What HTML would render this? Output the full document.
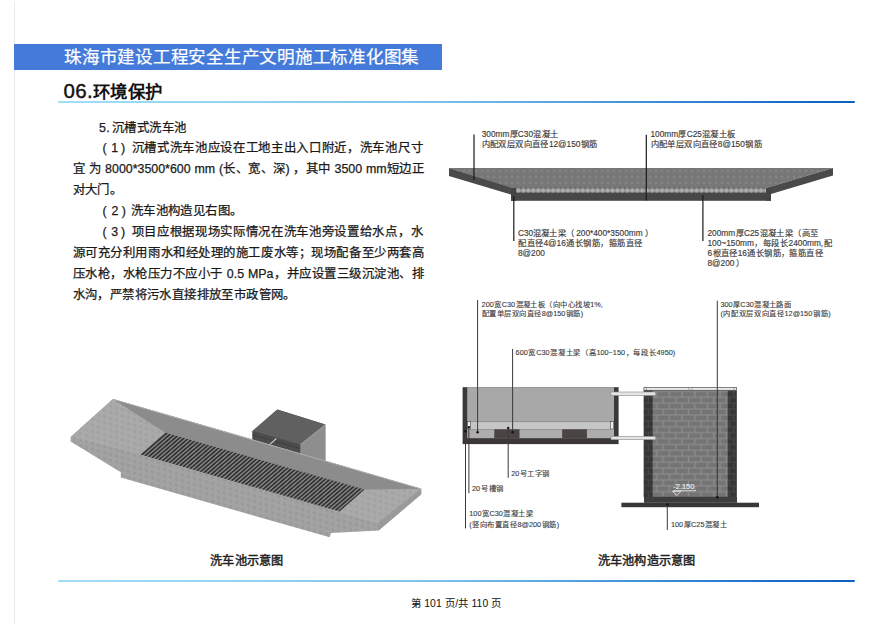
<!DOCTYPE html>
<html lang="zh-CN"><head><meta charset="utf-8">
<style>
*{margin:0;padding:0;box-sizing:border-box}
html,body{width:896px;height:632px;overflow:hidden;background:#fff}
body{position:relative;font-family:"Liberation Sans",sans-serif;color:#222}
.abs{position:absolute;white-space:nowrap}
#vline{position:absolute;left:14px;top:2px;width:1px;height:622px;background:#eaeaea}
#bar{position:absolute;left:14px;top:43.5px;width:428px;height:26.2px;background:#447bda}
#bartxt{left:64px;top:44.6px;font-size:17.6px;line-height:24px;color:#fff;letter-spacing:-0.25px;-webkit-text-stroke:0.2px #fff}
#sec{left:63.5px;top:79px;font-size:17.4px;line-height:24px;font-weight:bold;color:#111;letter-spacing:0.5px}
#sec .d{font-size:20.5px;font-weight:normal;letter-spacing:0.3px;margin-right:0px;-webkit-text-stroke:0.4px #111}
.hl{position:absolute;left:58.2px;width:797px;height:2.3px;border-radius:1.2px;background:linear-gradient(90deg,#a2ddf6 0%,#92d2f2 24%,#7cc2eb 47%,#3e8fd8 74%,#1a6ecb 90%,#0a5fc0 100%)}
.tx{position:absolute;font-size:12.4px;line-height:20px;color:#1a1a1a;white-space:nowrap;letter-spacing:0.4px;-webkit-text-stroke:0.25px #1a1a1a}
.j{text-align:justify;text-align-last:justify;white-space:normal;letter-spacing:0}
.pf{display:inline-block;width:31.9px;padding-left:3.5px;text-align-last:auto;text-align:left}
.pf b{font-weight:normal;margin:0 3px 0 4.5px}
.lb{position:absolute;font-size:8.3px;line-height:10px;color:#3a3a3a;white-space:nowrap;text-align:justify;text-align-last:justify;-webkit-text-stroke:0.15px #3a3a3a}
.lb2{position:absolute;font-size:7.3px;line-height:9px;color:#3c3c3c;white-space:nowrap;text-align:justify;text-align-last:justify;-webkit-text-stroke:0.12px #3c3c3c}
.cap{position:absolute;font-size:12.2px;line-height:16px;color:#222;font-weight:normal;-webkit-text-stroke:0.45px #222;white-space:nowrap;letter-spacing:0.25px}
#foot{left:411px;top:597px;font-size:10.4px;line-height:14px;color:#111;font-weight:normal;letter-spacing:0.15px}
</style></head><body>
<div id="vline"></div>
<div id="bar"></div>
<div id="bartxt" class="abs">珠海市建设工程安全生产文明施工标准化图集</div>
<div id="sec" class="abs"><span class="d">06.</span>环境保护</div>
<div class="hl" style="top:100.9px"></div>

<div class="tx" style="left:99.0px;top:118px;word-spacing:-2px">5. 沉槽式洗车池</div>
<div class="tx j" style="left:99.0px;top:138px;width:323.5px"><span class="pf">(<b>1</b>)</span>沉槽式洗车池应设在工地主出入口附近，洗车池尺寸</div>
<div class="tx j" style="left:72.6px;top:159px;width:351.2px">宜 为 8000*3500*600 mm (长、宽、深) ，其中 3500 mm短边正</div>
<div class="tx" style="left:72.6px;top:180px">对大门。</div>
<div class="tx" style="left:99.0px;top:201px"><span class="pf">(<b>2</b>)</span>洗车池构造见右图。</div>
<div class="tx j" style="left:99.0px;top:222px;width:323.5px"><span class="pf">(<b>3</b>)</span>项目应根据现场实际情况在洗车池旁设置给水点，水</div>
<div class="tx j" style="left:72.6px;top:243px;width:351.2px">源可充分利用雨水和经处理的施工废水等；现场配备至少两套高</div>
<div class="tx j" style="left:72.6px;top:264px;width:351.2px">压水枪，水枪压力不应小于 0.5 MPa，并应设置三级沉淀池、排</div>
<div class="tx" style="left:72.6px;top:285px">水沟，严禁将污水直接排放至市政管网。</div>


<svg id="art" width="896" height="632" viewBox="0 0 896 632" style="position:absolute;left:0;top:0">
<defs>
<pattern id="ctex" x="0" y="0" width="6" height="6" patternUnits="userSpaceOnUse" patternTransform="skewY(16)">
<rect width="6" height="6" fill="#a3a3a3"/><rect x="1" y="1" width="3.2" height="3.2" fill="#9a9a9a"/>
</pattern>
<pattern id="rtex" x="0" y="0" width="6" height="6" patternUnits="userSpaceOnUse" patternTransform="skewY(16)">
<rect width="6" height="6" fill="#aaaaaa"/><rect x="1" y="1" width="3.2" height="3.2" fill="#a2a2a2"/>
</pattern>
<pattern id="slabtex" x="449" y="168" width="6" height="6" patternUnits="userSpaceOnUse">
<rect width="6" height="6" fill="#777"/><circle cx="3" cy="3" r="1.3" fill="#848484"/>
</pattern>
<pattern id="rebar" x="516" y="187.6" width="4.95" height="5.4" patternUnits="userSpaceOnUse">
<rect width="4.95" height="5.4" fill="#5e5e5e"/><circle cx="2.47" cy="2.7" r="2.35" fill="#ababab"/>
</pattern>
<pattern id="grate" width="4.6" height="40" patternUnits="userSpaceOnUse" patternTransform="translate(165.1,432.6) skewX(-49)">
<rect width="4.6" height="40" fill="#858585"/><rect x="1.1" width="2.3" height="40" fill="#2c2c2c"/>
</pattern>
<pattern id="dbrick" x="643.8" y="391.3" width="9" height="11.8" patternUnits="userSpaceOnUse">
<rect width="9" height="11.8" fill="#4a4a4a"/>
<rect x="0.5" y="0.5" width="8" height="5" fill="#363636"/>
<rect x="-4" y="6.4" width="8" height="5" fill="#363636"/>
<rect x="5" y="6.4" width="8" height="5" fill="#363636"/>
</pattern>
<pattern id="brick" x="656.7" y="391.3" width="25.4" height="11.8" patternUnits="userSpaceOnUse">
<rect width="25.4" height="11.8" fill="#8e8e8e"/>
<rect x="0.6" y="0.6" width="11.5" height="4.8" fill="#747474"/>
<rect x="13.3" y="0.6" width="11.5" height="4.8" fill="#747474"/>
<rect x="-5.75" y="6.5" width="11.5" height="4.8" fill="#747474"/>
<rect x="6.95" y="6.5" width="11.5" height="4.8" fill="#747474"/>
<rect x="19.65" y="6.5" width="11.5" height="4.8" fill="#747474"/>
</pattern>
</defs>
<!-- ===== top-right slab section ===== -->
<g>
<polygon points="449,168 833,168 766,188 511,188" fill="url(#slabtex)"/>
<polygon points="449,168 511,187.6 511,194.6 449,176" fill="#4a4a4a"/>
<polygon points="833,168 833,175.5 771,194 766,194 766,188" fill="#4a4a4a"/>
<rect x="516" y="187.6" width="250" height="5.4" fill="url(#rebar)"/>
<rect x="511" y="193" width="260" height="7.8" fill="#474747"/>
<rect x="511" y="188" width="5" height="12.8" fill="#444"/>
<rect x="766" y="188" width="5" height="12.8" fill="#444"/>
</g>
<g stroke="#1a1a1a" stroke-width="1.2" fill="none">
<line x1="474" y1="134.5" x2="474" y2="180"/>
<line x1="646.3" y1="134.8" x2="646.3" y2="200.6"/>
<line x1="513.8" y1="196" x2="513.8" y2="241"/>
<line x1="702.9" y1="195" x2="702.9" y2="241"/>
</g>
<!-- ===== lower-right section ===== -->
<g>
<rect x="462.6" y="387.2" width="156" height="56.9" fill="#3c3838"/>
<rect x="467.2" y="387.2" width="146.8" height="34" fill="#a8a8a8"/>
<rect x="467.2" y="421.2" width="146.8" height="8.1" fill="#c6c6c6"/>
<line x1="467.2" y1="421.6" x2="614" y2="421.6" stroke="#8a8a8a" stroke-width="0.8"/>
<rect x="467.6" y="421.5" width="3" height="7.5" fill="#eee" stroke="#444" stroke-width="0.6"/>
<rect x="610.6" y="421.5" width="3" height="7.5" fill="#eee" stroke="#444" stroke-width="0.6"/>
<rect x="467.2" y="429.3" width="146.8" height="8.9" fill="#adadad"/>
<rect x="494.3" y="429.3" width="25.2" height="8.9" fill="#4a4444"/>
<rect x="562.2" y="429.3" width="24.7" height="8.9" fill="#4a4444"/>
<rect x="643.8" y="387.2" width="92.8" height="109.8" fill="#3a3838"/>
<rect x="643.8" y="390.2" width="8.9" height="106.6" fill="url(#dbrick)"/>
<rect x="727.7" y="390.2" width="8.9" height="106.6" fill="url(#dbrick)"/>
<rect x="652.7" y="390.3" width="75" height="106.6" fill="url(#brick)"/>
<rect x="644" y="387.3" width="92.5" height="2.9" fill="#ececec" stroke="#555" stroke-width="0.6"/>
<path d="M646.5 387.3v2.9M689 387.3v2.9M692 387.3v2.9M734 387.3v2.9" stroke="#777" stroke-width="0.6"/>
<rect x="644" y="496.8" width="93" height="6" fill="#3d3d3d"/>
<rect x="621.4" y="502.7" width="137.6" height="4.5" fill="#383838"/>
<rect x="611" y="392" width="44.7" height="3.5" fill="#e4e4e4" stroke="#8a8a8a" stroke-width="0.6"/>
<rect x="611" y="436.4" width="44.7" height="3.3" fill="#e4e4e4" stroke="#8a8a8a" stroke-width="0.6"/>
</g>
<g stroke="#3a3a3a" stroke-width="1" fill="none">
<line x1="477.6" y1="300" x2="477.6" y2="432.3"/>
<line x1="512.6" y1="348.9" x2="512.6" y2="432.3"/>
<line x1="717.3" y1="300.7" x2="717.3" y2="497.3"/>
<line x1="508.2" y1="427.9" x2="508.2" y2="477.9"/>
<line x1="465.5" y1="431.2" x2="465.5" y2="528.4"/>
<line x1="468.9" y1="427.1" x2="468.9" y2="493.2"/>
<line x1="667.3" y1="504.5" x2="667.3" y2="530"/>
</g>
<g fill="#111">
<circle cx="477.6" cy="432.3" r="1.2"/><circle cx="512.6" cy="432.3" r="1.2"/>
<circle cx="717.3" cy="497.3" r="1.2"/><circle cx="508.2" cy="427.9" r="1.2"/>
<circle cx="465.5" cy="431.2" r="1.2"/><circle cx="468.9" cy="427.1" r="1.2"/>
<circle cx="667.3" cy="504.5" r="1.2"/>
</g>
<g>
<line x1="673" y1="490.7" x2="696" y2="490.7" stroke="#eee" stroke-width="0.8"/>
<polygon points="672.5,491.2 681,491.2 676.8,495.5" fill="none" stroke="#eee" stroke-width="0.8"/>
<text x="673.3" y="488.5" font-size="7.6" fill="#f2f2f2" stroke="#f2f2f2" stroke-width="0.15" font-family="Liberation Sans" textLength="21" lengthAdjust="spacingAndGlyphs">-2.150</text>
</g>
<!-- ===== 3D washing pool ===== -->
<g>
<polygon points="252.5,431.1 277.3,409.6 325.3,424.6 325.3,462 252.5,442" fill="#505050"/>
<polygon points="252.5,431.1 277.3,409.6 325.3,424.6 300.3,444.8" fill="#606060"/>
<polygon points="252.5,431.1 300.3,444.8 300.3,456 252.5,442" fill="#4c4c4c"/>
<line x1="252.5" y1="434.8" x2="300.3" y2="448.6" stroke="#3a3a3a" stroke-width="0.7"/>
<polygon points="300.3,444.8 325.3,424.6 325.3,462 300.3,456" fill="#8e8e8e"/>
<line x1="300.5" y1="444.6" x2="325.2" y2="424.8" stroke="#b8b8b8" stroke-width="0.7"/>
<line x1="276.4" y1="438.5" x2="269.6" y2="444.6" stroke="#d0d0d0" stroke-width="1.1"/>
<polygon points="70.6,437 113,399 421.2,488.7 421.2,494.3 378.6,530.5 331,533 329.7,537.3 120.8,477.6 120.8,472.3 70.6,441.5" fill="url(#ctex)"/>
<polygon points="113,399 70.6,437 140.4,454.6 165.1,432.6" fill="url(#rtex)"/>
<polygon points="364.5,489.6 421.2,488.7 377.5,523.5 332.5,511" fill="url(#rtex)"/>
<polygon points="421.2,488.7 421.2,494.3 378.6,530.5 377.5,523.5" fill="#9a9a9a"/>
<polygon points="113,399 421.2,488.7 364.5,489.6 165.1,432.6" fill="#8c8c8c"/>
<line x1="113" y1="399.3" x2="421.2" y2="489" stroke="#b5b5b5" stroke-width="0.8"/>
<polygon points="165.1,432.6 364.5,489.6 339.5,511.6 140.4,454.6" fill="url(#grate)"/>
</g>
</svg>



<div class="lb" style="left:481.7px;top:128.6px;width:76.1px">300mm厚C30混凝土</div>
<div class="lb" style="left:481.7px;top:138.7px;width:115.5px">内配双层双向直径12@150钢筋</div>
<div class="lb" style="left:650.5px;top:128.5px;width:84.5px">100mm厚C25混凝土板</div>
<div class="lb" style="left:650.5px;top:138.6px;width:111.1px">内配单层双向直径8@150钢筋</div>
<div class="lb" style="left:518px;top:227.6px;width:135.0px">C30混凝土梁（ 200*400*3500mm ）</div>
<div class="lb" style="left:518px;top:237.6px;width:124.3px">配直径4@16通长钢筋，箍筋直径</div>
<div class="lb" style="left:518px;top:248.1px;width:27.8px">8@200</div>
<div class="lb" style="left:707.5px;top:228.3px;width:110.7px">200mm厚C25混凝土梁（高至</div>
<div class="lb" style="left:707.5px;top:238.1px;width:124.2px">100~150mm，每段长2400mm,配</div>
<div class="lb" style="left:707.5px;top:247.8px;width:115.1px">6根直径16通长钢筋，箍筋直径</div>
<div class="lb" style="left:707.5px;top:257.7px;width:36.5px">8@200）</div>
<div class="lb2" style="left:481.6px;top:300.4px;width:121.2px">200宽C30混凝土板（向中心找坡1%,</div>
<div class="lb2" style="left:481.6px;top:309.4px;width:101.7px">配置单层双向直径8@150钢筋)</div>
<div class="lb2" style="left:515.6px;top:347.9px;width:159.6px">600宽C30混凝土梁（高100~150，每段长4950)</div>
<div class="lb2" style="left:720.4px;top:299.9px;width:70.4px">300厚C30混凝土路面</div>
<div class="lb2" style="left:720.4px;top:309.4px;width:110.2px">(内配双层双向直径12@150钢筋)</div>
<div class="lb2" style="left:511.25px;top:469.1px;width:38.0px">20号工字钢</div>
<div class="lb2" style="left:472px;top:484.4px;width:31.4px">20号槽钢</div>
<div class="lb2" style="left:469.3px;top:509.4px;width:63.3px">100宽C30混凝土梁</div>
<div class="lb2" style="left:469.3px;top:520.2px;width:89.8px">(竖向布置直径8@200钢筋)</div>
<div class="lb2" style="left:671px;top:519.8px;width:55.8px">100厚C25混凝土</div>
<div class="cap" style="left:210px;top:553px">洗车池示意图</div>
<div class="cap" style="left:597.5px;top:553px">洗车池构造示意图</div>
<div class="hl" style="top:579.5px"></div>
<div id="foot" class="abs">第 101 页/共 110 页</div>
</body></html>
